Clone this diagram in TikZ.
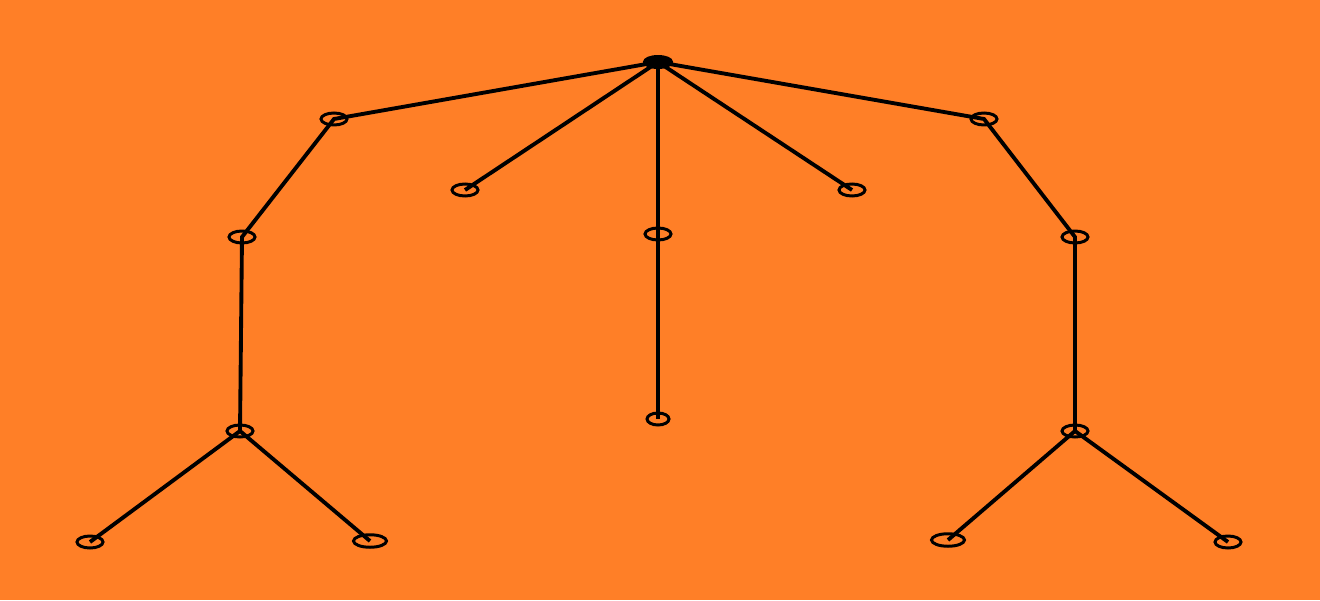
\documentclass[tikz,border=0pt]{standalone}
\usetikzlibrary{shapes.geometric}
\begin{document}
\begin{tikzpicture}[x=0.2mm, y=-0.2mm,
  knot/.style={draw, ellipse, inner sep=0pt, minimum width=5.2mm, minimum height=2.4mm, line width=1.7pt},
  wide/.style={minimum width=6.6mm, minimum height=2.5mm},
  edge/.style={line width=2.2pt}]
\definecolor{bg}{RGB}{255,127,39}
\fill[bg] (0,0) rectangle (1320,600);

\node[knot, fill=black, minimum width=5.4mm, minimum height=2.2mm] (root) at (658,62) {};
\node[knot] (l1) at (334,119) {};
\node[knot] (r1) at (984,119) {};
\node[knot] (c1) at (465,190) {};
\node[knot] (c2) at (852,190) {};
\node[knot] (m1) at (658,234) {};
\node[knot, minimum width=4.4mm] (m2) at (658,419) {};
\node[knot] (l2) at (242,237) {};
\node[knot] (r2) at (1075,237) {};
\node[knot] (l3) at (240,431) {};
\node[knot] (r3) at (1075,431) {};
\node[knot] (ll) at (90,542) {};
\node[knot, wide] (lr) at (370,541) {};
\node[knot, wide] (rl) at (948,540) {};
\node[knot] (rr) at (1228,542) {};

\draw[edge] (root.center) -- (l1.center) -- (l2.center) -- (l3.center) -- (ll.center);
\draw[edge] (l3.center) -- (lr.center);
\draw[edge] (root.center) -- (r1.center) -- (r2.center) -- (r3.center) -- (rl.center);
\draw[edge] (r3.center) -- (rr.center);
\draw[edge] (root.center) -- (c1.center);
\draw[edge] (root.center) -- (c2.center);
\draw[edge] (root.center) -- (m1.center) -- (m2.center);
\end{tikzpicture}
\end{document}
